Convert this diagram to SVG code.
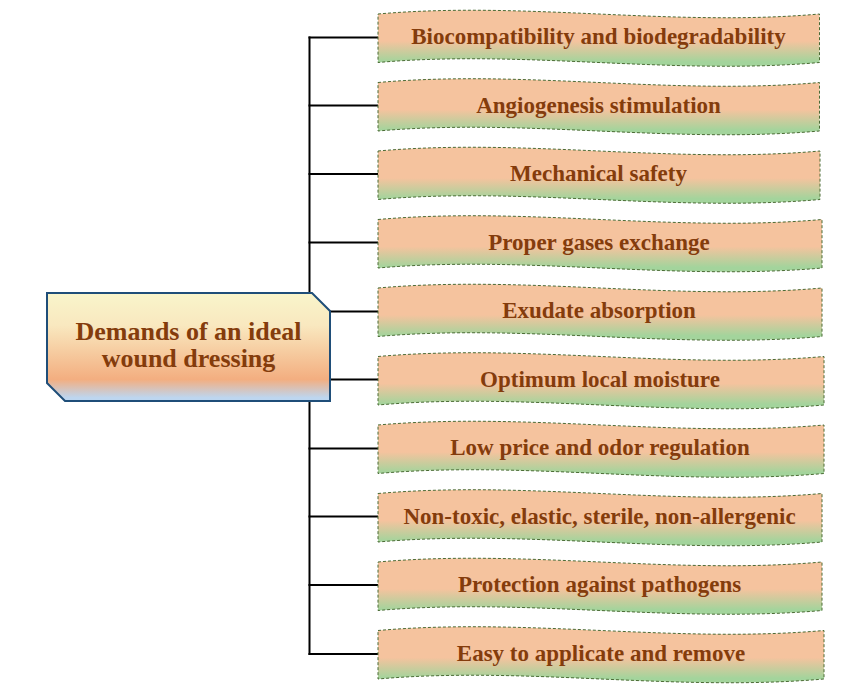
<svg xmlns="http://www.w3.org/2000/svg" width="847" height="692" viewBox="0 0 847 692">
<defs>
<linearGradient id="gBox" x1="0" y1="0" x2="0" y2="1">
<stop offset="0" stop-color="#F5C39E"/>
<stop offset="0.55" stop-color="#F5C39E"/>
<stop offset="0.92" stop-color="#A3D49C"/>
<stop offset="1" stop-color="#A3D49C"/>
</linearGradient>
<linearGradient id="gMain" x1="0" y1="0" x2="0" y2="1">
<stop offset="0" stop-color="#F9F5CB"/>
<stop offset="0.3" stop-color="#F9E8BF"/>
<stop offset="0.8" stop-color="#F3AE80"/>
<stop offset="0.97" stop-color="#BDD6F0"/>
<stop offset="1" stop-color="#BDD6F0"/>
</linearGradient>
</defs>
<style>
.box{fill:url(#gBox);stroke:#4A6B34;stroke-width:1;stroke-dasharray:3 2}
.lbl{font-family:"Liberation Serif","Times New Roman",serif;font-weight:bold;font-size:23px;fill:#843C0C;text-anchor:middle}
.main{font-family:"Liberation Serif","Times New Roman",serif;font-weight:bold;font-size:26px;fill:#843C0C;text-anchor:middle}
.con{stroke:#000;stroke-width:2;fill:none}
</style>
<g id="connectors">
<line class="con" x1="309.5" y1="36.5" x2="309.5" y2="655"/>
<line class="con" x1="308.5" y1="37.5" x2="378" y2="37.5"/>
<line class="con" x1="308.5" y1="105.5" x2="378" y2="105.5"/>
<line class="con" x1="308.5" y1="174" x2="378" y2="174"/>
<line class="con" x1="308.5" y1="242.5" x2="378" y2="242.5"/>
<line class="con" x1="308.5" y1="311.5" x2="378" y2="311.5"/>
<line class="con" x1="308.5" y1="379.5" x2="378" y2="379.5"/>
<line class="con" x1="308.5" y1="448.5" x2="378" y2="448.5"/>
<line class="con" x1="308.5" y1="516.5" x2="378" y2="516.5"/>
<line class="con" x1="308.5" y1="585" x2="378" y2="585"/>
<line class="con" x1="308.5" y1="654" x2="378" y2="654"/>
</g>
<g id="main">
<path d="M47,293 L312,293 L330,311 L330,401 L65,401 L47,383 Z" fill="url(#gMain)" stroke="#1F4E79" stroke-width="2"/>
<text class="main" x="188.5" y="340">Demands of an ideal</text>
<text class="main" x="188.5" y="367">wound dressing</text>
</g>
<g id="n1">
<path class="box" d="M378,14 C525,1 672,27 819.5,14 L819.5,62.5 C672,75.5 525,49.5 378,62.5 Z"/>
<text class="lbl" x="598.5" y="44">Biocompatibility and biodegradability</text>
</g>
<g id="n2">
<path class="box" d="M378,82.5 C525,69.5 672,95.5 819.5,82.5 L819.5,131 C672,144 525,118 378,131 Z"/>
<text class="lbl" x="598.5" y="112.5">Angiogenesis stimulation</text>
</g>
<g id="n3">
<path class="box" d="M378,151 C525,138 673,164 820,151 L820,199.5 C673,212.5 525,186.5 378,199.5 Z"/>
<text class="lbl" x="598.5" y="181">Mechanical safety</text>
</g>
<g id="n4">
<path class="box" d="M378,219.5 C526,206.5 674,232.5 822,219.5 L822,268 C674,281 526,255 378,268 Z"/>
<text class="lbl" x="599" y="249.5">Proper gases exchange</text>
</g>
<g id="n5">
<path class="box" d="M378,288 C526,275 674,301 822,288 L822,336.5 C674,349.5 526,323.5 378,336.5 Z"/>
<text class="lbl" x="599" y="318">Exudate absorption</text>
</g>
<g id="n6">
<path class="box" d="M378,356.5 C527,343.5 675,369.5 824,356.5 L824,405 C675,418 527,392 378,405 Z"/>
<text class="lbl" x="600" y="386.5">Optimum local moisture</text>
</g>
<g id="n7">
<path class="box" d="M378,425 C527,412 675,438 824,425 L824,473.5 C675,486.5 527,460.5 378,473.5 Z"/>
<text class="lbl" x="600" y="455">Low price and odor regulation</text>
</g>
<g id="n8">
<path class="box" d="M378,493.5 C526,480.5 674,506.5 822,493.5 L822,542 C674,555 526,529 378,542 Z"/>
<text class="lbl" x="599.5" y="523.5">Non-toxic, elastic, sterile, non-allergenic</text>
</g>
<g id="n9">
<path class="box" d="M378,562 C526,549 674,575 822,562 L822,610.5 C674,623.5 526,597.5 378,610.5 Z"/>
<text class="lbl" x="599.5" y="592">Protection against pathogens</text>
</g>
<g id="n10">
<path class="box" d="M378,630.5 C527,617.5 675,643.5 824,630.5 L824,679 C675,692 527,666 378,679 Z"/>
<text class="lbl" x="601" y="660.5">Easy to applicate and remove</text>
</g>
</svg>
